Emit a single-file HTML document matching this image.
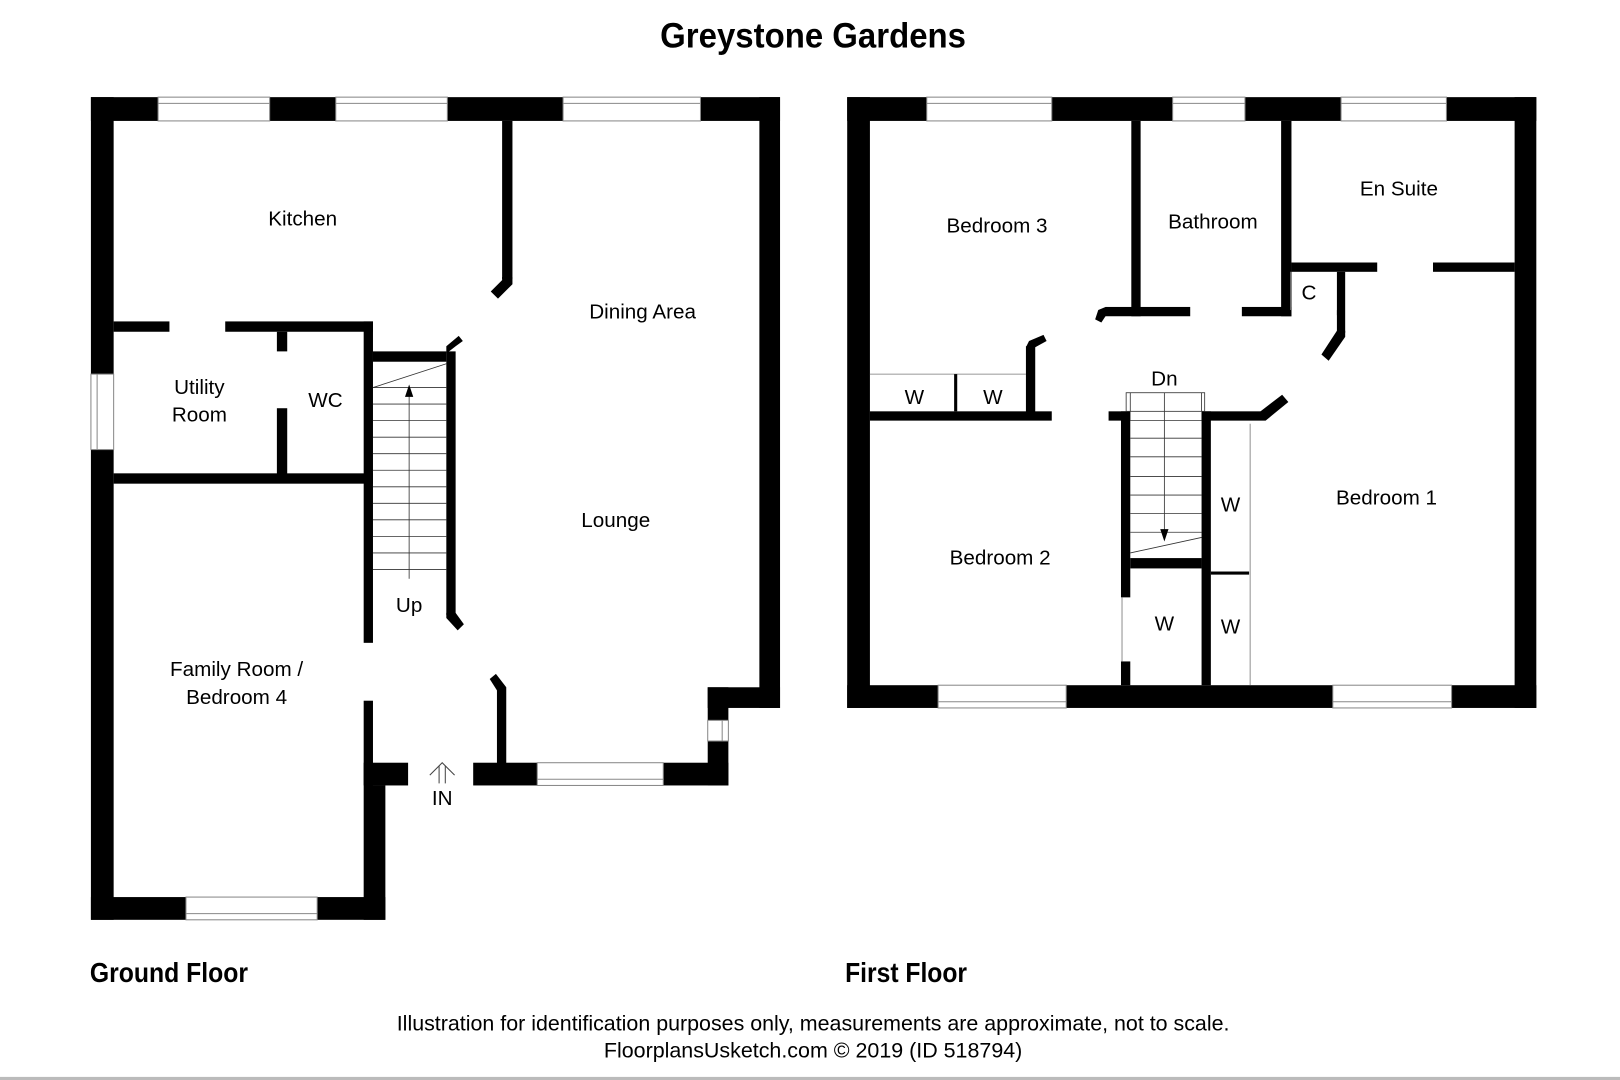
<!DOCTYPE html>
<html><head><meta charset="utf-8"><style>
html,body{margin:0;padding:0;background:#fff;}
svg{display:block;}
text{font-family:"Liberation Sans",Arial,sans-serif;fill:#000;}
</style></head><body>
<svg width="1620" height="1080" viewBox="0 0 1568 1045" preserveAspectRatio="none" xmlns="http://www.w3.org/2000/svg">
<rect width="1568" height="1045" fill="#fff"/>
<rect x="0" y="1042" width="1568" height="3" fill="#bbb"/>
<text x="787" y="46" font-size="34" font-weight="bold" text-anchor="middle" textLength="296" lengthAdjust="spacingAndGlyphs">Greystone Gardens</text>

<g fill="#000">
<!-- GROUND FLOOR -->
<rect x="88" y="94" width="667" height="23"/>
<rect x="88" y="94" width="22" height="796"/>
<rect x="88" y="868" width="285" height="22"/>
<rect x="735" y="94" width="20" height="591"/>
<rect x="685" y="665" width="70" height="20"/>
<rect x="685" y="665" width="20" height="95"/>
<rect x="458" y="738" width="247" height="22"/>
<rect x="352" y="760" width="21" height="130"/>
<rect x="352" y="678" width="9" height="82"/>
<rect x="352" y="738" width="43" height="22"/>
<!-- kitchen/dining wall -->
<rect x="486" y="117" width="10" height="153"/>
<polygon points="486,268 496,268 496,275 482,289 475,282 486,271"/>
<!-- utility -->
<rect x="110" y="311" width="54" height="10"/>
<rect x="218" y="311" width="143" height="10"/>
<rect x="268" y="321" width="10" height="19"/>
<rect x="268" y="395" width="10" height="65"/>
<rect x="110" y="458" width="251" height="10"/>
<rect x="352" y="311" width="9" height="311"/>
<!-- stair -->
<rect x="361" y="340" width="71" height="10"/>
<rect x="432" y="340" width="9" height="255"/>
<polygon points="432,342 441,335 448,330 444,325 432,335"/>
<polygon points="432,593 441,593 449,604 443,610 432,598"/>
<!-- lounge entry -->
<rect x="481" y="665" width="9" height="75"/>
<polygon points="481,668 490,665 480,652 474,657"/>
<!-- FIRST FLOOR -->
<rect x="820" y="94" width="667" height="23"/>
<rect x="820" y="94" width="22" height="591"/>
<rect x="1466" y="94" width="21" height="591"/>
<rect x="820" y="663" width="667" height="22"/>
<rect x="1095" y="117" width="9" height="189"/>
<rect x="1070" y="297" width="82" height="9"/>
<polygon points="1070,297 1070,306 1066,312 1060,309 1063,300"/>
<rect x="1240" y="117" width="10" height="189"/>
<rect x="1202" y="297" width="48" height="9"/>
<rect x="1250" y="254" width="83" height="9"/>
<rect x="1387" y="254" width="79" height="9"/>
<rect x="1294" y="263" width="8" height="59"/>
<polygon points="1294,320 1302,320 1302,326 1286,349 1279,343"/>
<rect x="842" y="398" width="176" height="9"/>
<rect x="993" y="335" width="9" height="65"/>
<polygon points="993,336 1002,336 1013,330 1010,324 996,330"/>
<rect x="1073" y="398" width="21" height="9"/>
<rect x="1085" y="398" width="9" height="180"/>
<rect x="1085" y="640" width="9" height="23"/>
<rect x="1163" y="398" width="9" height="265"/>
<rect x="1163" y="398" width="62" height="9"/>
<polygon points="1220,398 1225,407 1247,389 1241,382"/>
<rect x="1094" y="540" width="69" height="10"/>
<rect x="1172" y="553" width="37" height="3"/>
</g>

<!-- windows -->
<g fill="#fff" stroke="#888" stroke-width="1">
<rect x="153" y="94" width="108" height="23"/>
<rect x="325" y="94" width="108" height="23"/>
<rect x="545" y="94" width="133" height="23"/>
<rect x="88" y="362" width="22" height="73"/>
<rect x="180" y="868" width="127" height="22"/>
<rect x="520" y="738" width="122" height="22"/>
<rect x="685" y="697" width="20" height="20"/>
<rect x="897" y="94" width="121" height="23"/>
<rect x="1135" y="94" width="70" height="23"/>
<rect x="1298" y="94" width="102" height="23"/>
<rect x="908" y="663" width="124" height="22"/>
<rect x="1290" y="663" width="115" height="22"/>
</g>
<g stroke="#888" stroke-width="1">
<line x1="153" y1="100" x2="261" y2="100"/><line x1="325" y1="100" x2="433" y2="100"/><line x1="545" y1="100" x2="678" y2="100"/>
<line x1="94" y1="362" x2="94" y2="435"/><line x1="180" y1="884" x2="307" y2="884"/><line x1="520" y1="754" x2="642" y2="754"/>
<line x1="699" y1="697" x2="699" y2="717"/>
<line x1="897" y1="100" x2="1018" y2="100"/><line x1="1135" y1="100" x2="1205" y2="100"/><line x1="1298" y1="100" x2="1400" y2="100"/>
<line x1="908" y1="679" x2="1032" y2="679"/><line x1="1290" y1="679" x2="1405" y2="679"/>
</g>

<!-- thin lines -->
<g stroke="#333" stroke-width="0.8" fill="none">
<line x1="361" y1="375" x2="432" y2="352"/>
<line x1="361" y1="391" x2="432" y2="391"/><line x1="361" y1="407" x2="432" y2="407"/><line x1="361" y1="423" x2="432" y2="423"/>
<line x1="361" y1="439" x2="432" y2="439"/><line x1="361" y1="455" x2="432" y2="455"/><line x1="361" y1="471" x2="432" y2="471"/>
<line x1="361" y1="487" x2="432" y2="487"/><line x1="361" y1="503" x2="432" y2="503"/><line x1="361" y1="519" x2="432" y2="519"/>
<line x1="361" y1="535" x2="432" y2="535"/><line x1="361" y1="551" x2="432" y2="551"/>
<line x1="361" y1="375" x2="432" y2="375"/>
<line x1="396" y1="560" x2="396" y2="380"/>
<!-- first floor stair -->
<rect x="1090" y="380" width="76" height="18"/>
<line x1="1094" y1="380" x2="1094" y2="398"/><line x1="1163" y1="380" x2="1163" y2="398"/>
<line x1="1094" y1="424" x2="1163" y2="424"/><line x1="1094" y1="442" x2="1163" y2="442"/><line x1="1094" y1="461" x2="1163" y2="461"/>
<line x1="1094" y1="479" x2="1163" y2="479"/><line x1="1094" y1="497" x2="1163" y2="497"/><line x1="1094" y1="515" x2="1163" y2="515"/>
<line x1="1094" y1="407" x2="1163" y2="407"/>
<line x1="1094" y1="535" x2="1163" y2="520"/>
<line x1="1127" y1="380" x2="1127" y2="515"/>
<!-- wardrobes -->
<line x1="842" y1="362" x2="993" y2="362" stroke="#777"/>
<line x1="925" y1="362" x2="925" y2="398" stroke="#000" stroke-width="3"/>
<line x1="1210" y1="410" x2="1210" y2="663" stroke="#777"/>
<line x1="1086" y1="578" x2="1086" y2="640" stroke="#777"/>
<line x1="1249" y1="263" x2="1249" y2="300" stroke="#777"/>
<line x1="1295" y1="300" x2="1295" y2="305" stroke="#000" stroke-width="2"/>
</g>
<polygon points="396,372 392,384 400,384" fill="#000"/>
<polygon points="1127,524 1123,512 1131,512" fill="#000"/>
<!-- IN arrow -->
<g stroke="#444" stroke-width="1" fill="none">
<polyline points="416,750 428,738 440,750"/>
<line x1="425" y1="741" x2="425" y2="758"/><line x1="431" y1="741" x2="431" y2="758"/>
</g>

<g font-size="20" text-anchor="middle">
<text x="293" y="218">Kitchen</text>
<text x="622" y="308">Dining Area</text>
<text x="193" y="381">Utility</text>
<text x="193" y="408">Room</text>
<text x="315" y="394">WC</text>
<text x="596" y="510">Lounge</text>
<text x="396" y="592">Up</text>
<text x="229" y="654">Family Room /</text>
<text x="229" y="681">Bedroom 4</text>
<text x="428" y="779">IN</text>
<text x="965" y="225">Bedroom 3</text>
<text x="1174" y="221">Bathroom</text>
<text x="1354" y="189">En Suite</text>
<text x="1267" y="290">C</text>
<text x="885" y="391">W</text>
<text x="961" y="391">W</text>
<text x="1127" y="373">Dn</text>
<text x="1342" y="488">Bedroom 1</text>
<text x="1191" y="495">W</text>
<text x="968" y="546">Bedroom 2</text>
<text x="1127" y="610">W</text>
<text x="1191" y="613">W</text>
</g>
<g font-size="27" font-weight="bold">
<text x="87" y="950" textLength="153" lengthAdjust="spacingAndGlyphs">Ground Floor</text>
<text x="818" y="950" textLength="118" lengthAdjust="spacingAndGlyphs">First Floor</text>
</g>
<g font-size="21" text-anchor="middle">
<text x="787" y="997" textLength="806" lengthAdjust="spacingAndGlyphs">Illustration for identification purposes only, measurements are approximate, not to scale.</text>
<text x="787" y="1023" textLength="405" lengthAdjust="spacingAndGlyphs">FloorplansUsketch.com © 2019 (ID 518794)</text>
</g>
</svg>
</body></html>
